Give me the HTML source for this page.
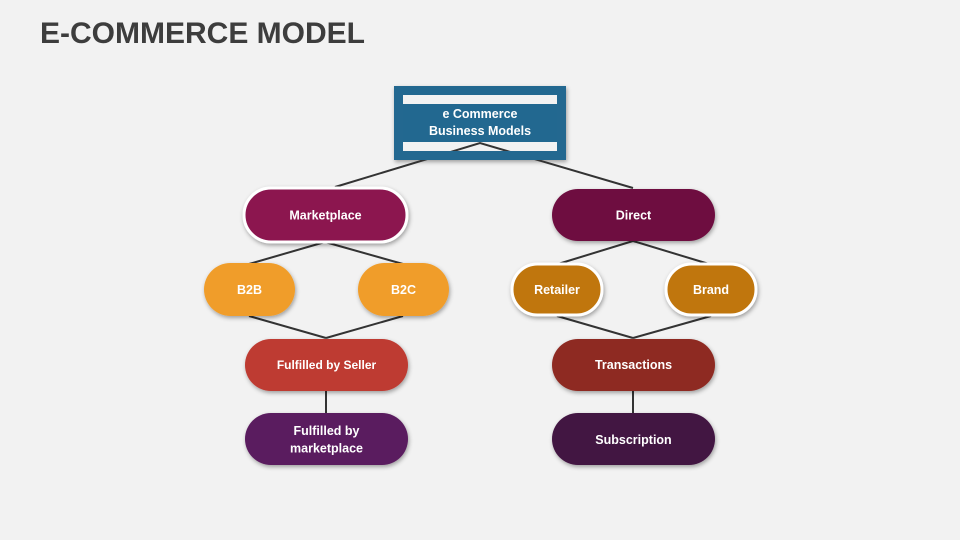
<!DOCTYPE html>
<html><head><meta charset="utf-8"><style>
html,body{margin:0;padding:0;background:#f2f2f2;}
body{width:960px;height:540px;overflow:hidden;position:relative;font-family:"Liberation Sans",sans-serif;}
.title{position:absolute;left:40px;top:17px;font-size:30px;font-weight:bold;color:#3d3d3d;letter-spacing:0px;white-space:nowrap;}
svg{position:absolute;left:0;top:0;}
text{font-family:"Liberation Sans",sans-serif;font-weight:bold;fill:#fff;font-size:12.5px;text-anchor:middle;}
</style></head><body>
<div class="title">E-COMMERCE MODEL</div>
<svg width="960" height="540" viewBox="0 0 960 540">
<defs>
<filter id="sh" x="-20%" y="-30%" width="140%" height="170%">
<feDropShadow dx="1" dy="2" stdDeviation="2" flood-color="#000" flood-opacity="0.35"/>
</filter>
</defs>
<g stroke="#333" stroke-width="2" fill="none">
<line x1="325" y1="242" x2="249" y2="264"/>
<line x1="325" y1="242" x2="403" y2="264"/>
<line x1="633" y1="241" x2="558" y2="264"/>
<line x1="633" y1="241" x2="709" y2="264"/>
<line x1="249" y1="316" x2="326" y2="338"/>
<line x1="403" y1="316" x2="326" y2="338"/>
<line x1="557" y1="316" x2="633" y2="338"/>
<line x1="711" y1="316" x2="633" y2="338"/>
<line x1="326" y1="391" x2="326" y2="413"/>
<line x1="633" y1="391" x2="633" y2="413"/>
</g>
<!-- top box -->
<rect x="394" y="86" width="172" height="74" fill="#236890" filter="url(#sh)"/>
<rect x="403" y="95" width="154" height="9" fill="#f2f2f2"/>
<rect x="403" y="142" width="154" height="9" fill="#f2f2f2"/>
<g stroke="#333" stroke-width="2" fill="none">
<polyline points="335,187 480,143 633,188"/>
</g>
<rect x="394" y="151" width="172" height="9" fill="#236890"/>
<rect x="394" y="86" width="9" height="74" fill="#236890"/>
<rect x="557" y="86" width="9" height="74" fill="#236890"/>
<text x="480" y="118">e Commerce</text>
<text x="480" y="135">Business Models</text>
<!-- Marketplace -->
<rect x="244" y="188" width="163" height="54" rx="27" fill="#8c1350" stroke="#fff" stroke-width="3" filter="url(#sh)"/>
<text x="325.5" y="219.5">Marketplace</text>
<!-- Direct -->
<rect x="552" y="189" width="163" height="52" rx="26" fill="#6e103f" filter="url(#sh)"/>
<text x="633.5" y="219.5">Direct</text>
<!-- B2B / B2C -->
<rect x="204" y="263" width="91" height="53" rx="26.5" fill="#f09d2a" filter="url(#sh)"/>
<text x="249.5" y="294">B2B</text>
<rect x="358" y="263" width="91" height="53" rx="26.5" fill="#f09d2a" filter="url(#sh)"/>
<text x="403.5" y="294">B2C</text>
<!-- Retailer / Brand -->
<rect x="512" y="264" width="90" height="51" rx="25.5" fill="#c0760c" stroke="#fff" stroke-width="3" filter="url(#sh)"/>
<text x="557" y="294">Retailer</text>
<rect x="666" y="264" width="90" height="51" rx="25.5" fill="#c0760c" stroke="#fff" stroke-width="3" filter="url(#sh)"/>
<text x="711" y="294">Brand</text>
<!-- Fulfilled by Seller / Transactions -->
<rect x="245" y="339" width="163" height="52" rx="26" fill="#be3a30" filter="url(#sh)"/>
<text x="326.5" y="369" style="font-size:12px">Fulfilled by Seller</text>
<rect x="552" y="339" width="163" height="52" rx="26" fill="#8e2a22" filter="url(#sh)"/>
<text x="633.5" y="369">Transactions</text>
<!-- bottom -->
<rect x="245" y="413" width="163" height="52" rx="26" fill="#5a1a5e" filter="url(#sh)"/>
<text x="326.5" y="435">Fulfilled by</text>
<text x="326.5" y="452.5">marketplace</text>
<rect x="552" y="413" width="163" height="52" rx="26" fill="#431442" filter="url(#sh)"/>
<text x="633.5" y="444">Subscription</text>
</svg>
</body></html>
